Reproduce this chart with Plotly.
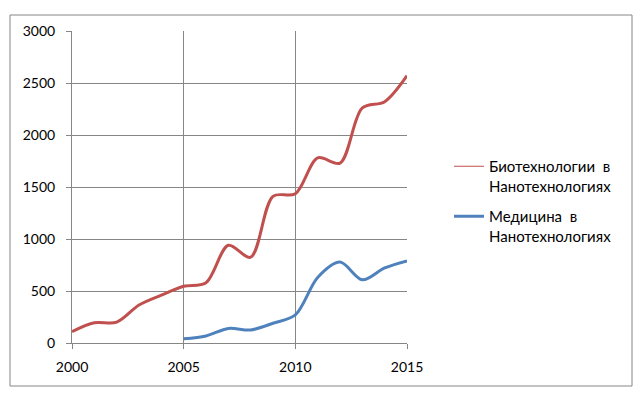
import plotly.graph_objects as go

years_bio = list(range(2000, 2016))
bio = [110, 195, 200, 365, 460, 545, 580, 940, 825, 1410, 1435, 1780, 1730, 2260, 2320, 2570]
years_med = list(range(2005, 2016))
med = [40, 68, 140, 125, 190, 270, 630, 778, 608, 722, 790]

name_bio = "Биотехнологии  в<br>Нанотехнологиях"
name_med = "Медицина  в<br>Нанотехнологиях"
x_ticks = [2000, 2005, 2010, 2015]
y_ticks = [0, 500, 1000, 1500, 2000, 2500, 3000]

RED = "#C0504D"
BLUE = "#4F81BD"
GRID = "#868686"
FONT = "Lato, 'Open Sans', sans-serif"

fig = go.Figure()
fig.add_trace(go.Scatter(x=years_bio, y=bio, mode="lines", legendgroup="bio",
                         line=dict(color=RED, width=3, shape="spline", smoothing=0.9),
                         showlegend=False, hoverinfo="skip"))
fig.add_trace(go.Scatter(x=[None], y=[None], mode="lines", name=name_bio, legendgroup="bio",
                         line=dict(color=RED, width=1)))
fig.add_trace(go.Scatter(x=years_med, y=med, mode="lines", name=name_med, legendgroup="med",
                         line=dict(color=BLUE, width=3, shape="spline", smoothing=0.9)))

OFF = 8  # page body margin
W, H = 644 - OFF, 396 - OFF
L, T = 72 - OFF, 31 - OFF
R = W - (407 - OFF)
B = H - (343 - OFF)
pw, ph = W - L - R, H - T - B

def px(xs):
    return (xs - OFF - L) / pw

def py(ys):
    return (H - B - (ys - OFF)) / ph

fig.update_layout(
    width=W, height=H,
    margin=dict(l=L, r=R, t=T, b=B),
    paper_bgcolor="white", plot_bgcolor="white",
    font=dict(family=FONT, size=14, color="#000000"),
    xaxis=dict(range=[2000, 2015], tickvals=x_ticks, showgrid=True, gridcolor=GRID, gridwidth=1,
               showline=True, linecolor=GRID, linewidth=1, ticks="outside", ticklen=5, tickcolor=GRID,
               zeroline=False, ticklabelstandoff=6, tickfont=dict(size=14)),
    yaxis=dict(range=[0, 3000], tickvals=y_ticks, showgrid=True, gridcolor=GRID, gridwidth=1,
               showline=True, linecolor=GRID, linewidth=1, ticks="outside", ticklen=5, tickcolor=GRID,
               zeroline=False, ticklabelstandoff=8, tickfont=dict(size=14)),
    legend=dict(x=px(449), xanchor="left", y=py(150), yanchor="top", valign="top",
                font=dict(size=15), tracegroupgap=8, bgcolor="rgba(0,0,0,0)"),
    shapes=[
        dict(type="rect", xref="paper", yref="paper", x0=px(10), x1=px(632), y0=py(386), y1=py(15),
             line=dict(color=GRID, width=1), layer="below"),
    ],
)

fig.write_html("out.html")
